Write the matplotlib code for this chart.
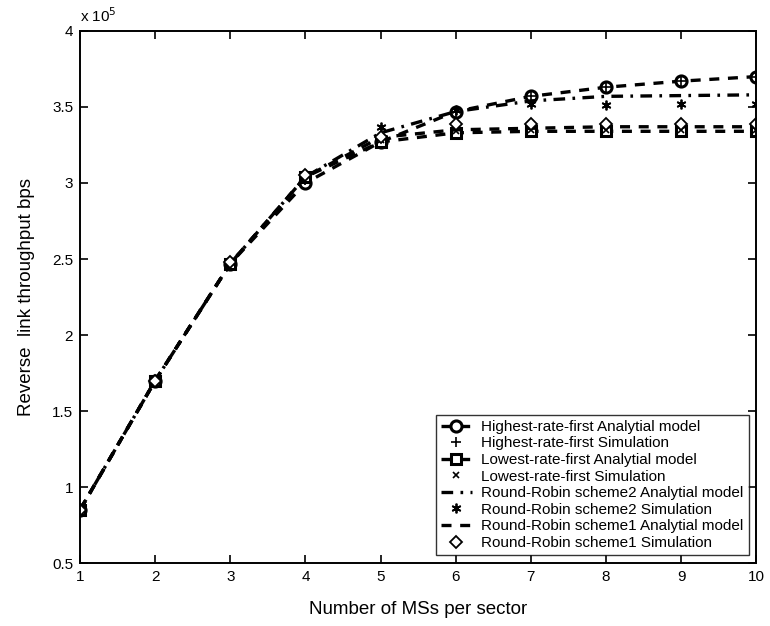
import matplotlib
matplotlib.use("Agg")
import matplotlib.pyplot as plt
from matplotlib.ticker import FuncFormatter, MultipleLocator

plt.rcParams["font.family"] = ["Liberation Sans", "DejaVu Sans"]

# Number of MSs per sector
n_ms = [1, 2, 3, 4, 5, 6, 7, 8, 9, 10]

# Reverse link throughput (bps)
hrf_model = [0.85e5, 1.70e5, 2.47e5, 3.00e5, 3.27e5, 3.47e5, 3.57e5, 3.63e5, 3.67e5, 3.70e5]
hrf_sim = [0.85e5, 1.70e5, 2.48e5, 3.02e5, 3.28e5, 3.47e5, 3.57e5, 3.63e5, 3.67e5, 3.70e5]
lrf_model = [0.85e5, 1.70e5, 2.47e5, 3.04e5, 3.27e5, 3.33e5, 3.34e5, 3.34e5, 3.34e5, 3.34e5]
lrf_sim = [0.85e5, 1.70e5, 2.48e5, 3.05e5, 3.28e5, 3.34e5, 3.35e5, 3.35e5, 3.35e5, 3.35e5]
rr2_model = [0.85e5, 1.70e5, 2.47e5, 3.04e5, 3.33e5, 3.47e5, 3.54e5, 3.57e5, 3.575e5, 3.58e5]
rr2_sim = [0.85e5, 1.70e5, 2.48e5, 3.06e5, 3.37e5, 3.48e5, 3.52e5, 3.51e5, 3.52e5, 3.52e5]
rr1_model = [0.85e5, 1.70e5, 2.47e5, 3.04e5, 3.30e5, 3.35e5, 3.36e5, 3.37e5, 3.37e5, 3.37e5]
rr1_sim = [0.85e5, 1.70e5, 2.48e5, 3.05e5, 3.30e5, 3.39e5, 3.39e5, 3.39e5, 3.39e5, 3.39e5]

fig = plt.figure(figsize=(7.7, 6.26), dpi=100)
ax = fig.add_axes([0.104, 0.1006, 0.878, 0.8499])

lw = 2.4
dash = (3.0, 2.6)
ax.plot(n_ms, hrf_model, color="black", lw=lw, dashes=dash, marker="o", ms=8,
        mfc="white", mec="black", mew=2.2, label="Highest-rate-first Analytial model")
ax.plot(n_ms, hrf_sim, ls="none", marker="+", ms=7, color="black", mew=1.2,
        label="Highest-rate-first Simulation")
ax.plot(n_ms, lrf_model, color="black", lw=lw, dashes=dash, marker="s", ms=7,
        mfc="white", mec="black", mew=2.2, label="Lowest-rate-first Analytial model")
ax.plot(n_ms, lrf_sim, ls="none", marker="x", ms=5, color="black", mew=1.2,
        label="Lowest-rate-first Simulation")
ax.plot(n_ms, rr2_model, color="black", lw=lw, dashes=(3.5, 2.2, 0.8, 2.2),
        label="Round-Robin scheme2 Analytial model")
ax.plot(n_ms, rr2_sim, ls="none", marker=(6, 2, 0), ms=7, color="black", mew=1.3,
        label="Round-Robin scheme2 Simulation")
ax.plot(n_ms, rr1_model, color="black", lw=lw, dashes=dash,
        label="Round-Robin scheme1 Analytial model")
ax.plot(n_ms, rr1_sim, ls="none", marker="D", ms=6, mfc="white", mec="black", mew=1.3,
        label="Round-Robin scheme1 Simulation")

ax.set_xlim(1, 10)
ax.set_ylim(0.5e5, 4e5)
ax.xaxis.set_major_locator(MultipleLocator(1))
ax.yaxis.set_major_locator(MultipleLocator(0.5e5))
ax.yaxis.set_major_formatter(FuncFormatter(lambda v, p: "%g" % (v / 1e5)))
ax.tick_params(direction="in", top=True, right=True, length=6, width=1.2,
               labelsize=11, colors="black", pad=5)
for s in ax.spines.values():
    s.set_linewidth(1.4)

ax.text(0.0, 1.012, r"x 10$^5$", transform=ax.transAxes, fontsize=11,
        ha="left", va="bottom")

ax.set_xlabel("Number of MSs per sector", fontsize=13.5, labelpad=12)
ax.set_ylabel("Reverse  link throughput bps", fontsize=13.5, labelpad=12)

leg = ax.legend(loc="lower right", fontsize=11, frameon=True, fancybox=False,
                edgecolor="black", handlelength=2.0, handletextpad=0.6,
                labelspacing=0.17, borderpad=0.35, borderaxespad=0.5)
leg.get_frame().set_linewidth(1.0)

fig.savefig("out.png", dpi=100)
